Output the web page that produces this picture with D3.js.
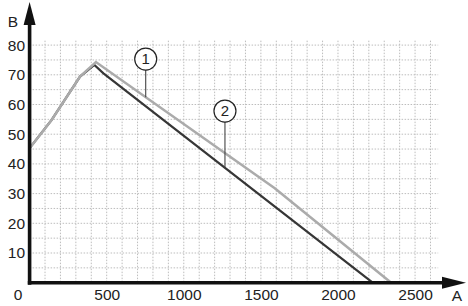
<!DOCTYPE html>
<html>
<head>
<meta charset="utf-8">
<script src="https://cdn.jsdelivr.net/npm/d3@7"></script>
<style>
  body { margin: 0; background: #fff; }
  svg { display: block; font-family: "Liberation Sans", Arial, sans-serif; }
</style>
</head>
<body>
<script>
const svgWidth = 468
const svgHeight = 306

// data: [A, B] points
const rise = [[0, 45.3], [143, 54.8], [327, 69.4]]
const curve1 = [[430, 74.3], [1590, 31.8], [2345, 0]]
const curve2 = [[420, 73.3], [479, 70.5], [2225, 0]]

const xTicks = [500, 1000, 1500, 2000, 2500]
const yTicks = [10, 20, 30, 40, 50, 60, 70, 80]

// callouts: label, A position, B position of the circle
const calloutLabels = ["1", "2"]
const calloutA = [753, 1267]
const calloutB = [75.3, 57.8]

const colorCurve1 = "#ababab"
const colorCurve2 = "#363636"

const svg = d3.select("body").append("svg")
    .attr("width", svgWidth)
    .attr("height", svgHeight)

const x = d3.scaleLinear()
    .domain([0, 2650])
    .range([29.6, 438.2])

const y = d3.scaleLinear()
    .domain([0, 80])
    .range([282.7, 45.1])

// grid
const grid = svg.append("g")

grid.selectAll(".vgrid")
    .data(d3.range(100, 2700, 100))
    .join("line")
    .attr("x1", d => x(d))
    .attr("x2", d => x(d))
    .attr("y1", y(81.5))
    .attr("y2", y(0))
    .attr("stroke", "#bdbdbd")
    .attr("stroke-width", 1)
    .attr("stroke-dasharray", "1.5,1.5")

grid.selectAll(".hgrid")
    .data(d3.range(5, 85, 5))
    .join("line")
    .attr("x1", x(0))
    .attr("x2", x(2650))
    .attr("y1", d => y(d))
    .attr("y2", d => y(d))
    .attr("stroke", "#bdbdbd")
    .attr("stroke-width", 1)
    .attr("stroke-dasharray", "1.5,1.5")

// curves
const line = d3.line()
    .x(d => x(d[0]))
    .y(d => y(d[1]))

const pts1 = rise.concat(curve1)
const pts2 = rise.concat(curve2)

svg.append("path")
    .attr("d", line(pts2))
    .attr("fill", "none")
    .attr("stroke", colorCurve2)
    .attr("stroke-width", 2.2)

svg.append("path")
    .attr("d", line(pts1))
    .attr("fill", "none")
    .attr("stroke", colorCurve1)
    .attr("stroke-width", 2.5)

// value of a polyline at a
function valueAt(pts, a) {
    for (let i = 1; i < pts.length; i++) {
        const [a0, b0] = pts[i - 1]
        const [a1, b1] = pts[i]
        if (a >= a0 && a <= a1) return b0 + (b1 - b0) * (a - a0) / (a1 - a0)
    }
    return 0
}

const calloutCurves = [pts1, pts2]
const r = 11

calloutLabels.forEach((lab, i) => {
    const cx = x(calloutA[i])
    const cy = y(calloutB[i])
    const endY = y(valueAt(calloutCurves[i], calloutA[i]))
    svg.append("line")
        .attr("x1", cx).attr("x2", cx)
        .attr("y1", cy + r).attr("y2", endY)
        .attr("stroke", "#444")
        .attr("stroke-width", 1.1)
    svg.append("circle")
        .attr("cx", cx).attr("cy", cy).attr("r", r)
        .attr("fill", "#fff")
        .attr("stroke", "#222")
        .attr("stroke-width", 1.2)
    svg.append("text")
        .attr("x", cx).attr("y", cy)
        .attr("dy", "0.36em")
        .attr("text-anchor", "middle")
        .attr("font-size", 15)
        .attr("fill", "#222")
        .text(lab)
})

// axes lines with arrows
svg.append("line")
    .attr("x1", x(0)).attr("x2", x(0))
    .attr("y1", y(0) + 2).attr("y2", 24)
    .attr("stroke", "#111")
    .attr("stroke-width", 3.6)

svg.append("path")
    .attr("d", `M${x(0) - 6},25 L${x(0)},2 L${x(0) + 6},25 Z`)
    .attr("fill", "#111")

svg.append("line")
    .attr("x1", x(0) - 1.8).attr("x2", 443)
    .attr("y1", y(0)).attr("y2", y(0))
    .attr("stroke", "#111")
    .attr("stroke-width", 3.6)

svg.append("path")
    .attr("d", `M442,${y(0) - 6} L466,${y(0)} L442,${y(0) + 6} Z`)
    .attr("fill", "#111")

// tick labels
const yAxis = d3.axisLeft(y).tickValues(yTicks).tickSize(0).tickPadding(4.6)
    .tickFormat(d3.format("d"))
const yG = svg.append("g")
    .attr("transform", `translate(${x(0)}, 0)`)
    .call(yAxis)
yG.select(".domain").remove()
yG.selectAll("text")
    .attr("font-size", 15.5)
    .attr("font-family", "Liberation Sans, Arial, sans-serif")
    .attr("fill", "#222")

const xAxis = d3.axisBottom(x).tickValues([0].concat(xTicks)).tickSize(0).tickPadding(6)
    .tickFormat(d3.format("d"))
const xG = svg.append("g")
    .attr("transform", `translate(0, ${y(0)})`)
    .call(xAxis)
xG.select(".domain").remove()
xG.selectAll("text")
    .attr("font-size", 15.5)
    .attr("font-family", "Liberation Sans, Arial, sans-serif")
    .attr("fill", "#222")
    .attr("dx", d => d === 0 ? -12 : 0)

// axis names
svg.append("text")
    .attr("x", 13).attr("y", 21)
    .attr("dy", "0.36em")
    .attr("text-anchor", "middle")
    .attr("font-size", 15.5)
    .attr("fill", "#222")
    .text("B")

svg.append("text")
    .attr("x", 457).attr("y", 295.5)
    .attr("dy", "0.36em")
    .attr("text-anchor", "middle")
    .attr("font-size", 15.5)
    .attr("fill", "#222")
    .text("A")
</script>
</body>
</html>
